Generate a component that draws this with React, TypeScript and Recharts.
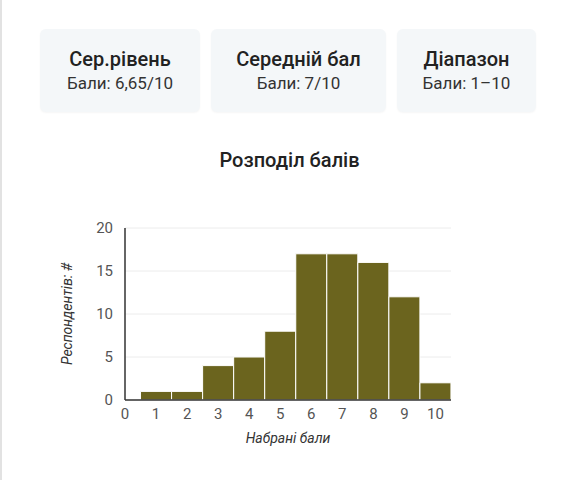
import { BarChart, Bar, XAxis, YAxis, CartesianGrid } from 'recharts';

const scores = [1, 2, 3, 4, 5, 6, 7, 8, 9, 10];
const respondents = [1, 1, 4, 5, 8, 17, 17, 16, 12, 2];
const xTicks = [0, 1, 2, 3, 4, 5, 6, 7, 8, 9, 10];
const yTicks = [0, 5, 10, 15, 20];

const cardTitles = ['Сер.рівень', 'Середній бал', 'Діапазон'];
const cardValues = ['Бали: 6,65/10', 'Бали: 7/10', 'Бали: 1–10'];
const cardWidths = [160, 175, 139];

const data = scores.map((s, i) => ({ score: s, count: respondents[i] }));

const font = 'Roboto, "Noto Sans", sans-serif';

export default function App() {
  return (
    <div
      style={{
        position: 'fixed',
        top: 0,
        left: 0,
        width: 575,
        height: 480,
        background: '#fff',
        borderLeft: '2px solid #e2e2e2',
        boxSizing: 'border-box',
        fontFamily: font,
        color: '#222',
      }}
    >
      <div style={{ position: 'absolute', top: 29, left: 38, display: 'flex', gap: 11 }}>
        {cardTitles.map((t, i) => (
          <div
            key={t}
            style={{
              width: cardWidths[i],
              height: 83,
              background: '#f4f7f9',
              borderRadius: 6,
              boxShadow: '0 1px 2px rgba(0,0,0,0.04)',
              textAlign: 'center',
            }}
          >
            <div style={{ fontSize: 20, fontWeight: 500, marginTop: 17, lineHeight: '26px' }}>{t}</div>
            <div style={{ fontSize: 17, color: '#333', lineHeight: '22px', marginTop: 0 }}>{cardValues[i]}</div>
          </div>
        ))}
      </div>

      <div
        style={{
          position: 'absolute',
          top: 146,
          left: 0,
          width: 575,
          textAlign: 'center',
          fontSize: 20,
          fontWeight: 500,
          lineHeight: '28px',
        }}
      >
        Розподіл балів
      </div>

      <div style={{ position: 'absolute', top: 140, left: -2 }}>
        <BarChart
          width={575}
          height={330}
          data={data}
          margin={{ top: 88, right: 124, left: 9, bottom: 27 }}
          barCategoryGap={0}
          style={{ fontFamily: font }}
        >
          <CartesianGrid vertical={false} stroke="#ececec" />
          <XAxis
            dataKey="score"
            type="number"
            domain={[0, 10.5]}
            ticks={xTicks}
            interval={0}
            height={43}
            tickLine={false}
            axisLine={{ stroke: '#333', strokeWidth: 1.5 }}
            tick={{ fill: '#555', fontSize: 15 }}
            tickMargin={2}
            label={{
              value: 'Набрані бали',
              position: 'insideBottom',
              offset: 0,
              fill: '#333',
              fontSize: 14,
              fontStyle: 'italic',
            }}
          />
          <YAxis
            domain={[0, 20]}
            ticks={yTicks}
            width={116}
            tickLine={false}
            axisLine={{ stroke: '#333', strokeWidth: 1.5 }}
            tick={{ fill: '#555', fontSize: 15 }}
            tickMargin={6}
            label={{
              value: 'Респондентів: #',
              angle: -90,
              position: 'center',
              fill: '#333',
              fontSize: 14,
              fontStyle: 'italic',
            }}
          />
          <Bar dataKey="count" fill="#6b641e" stroke="#fff" strokeWidth={1} isAnimationActive={false} />
        </BarChart>
      </div>
    </div>
  );
}
